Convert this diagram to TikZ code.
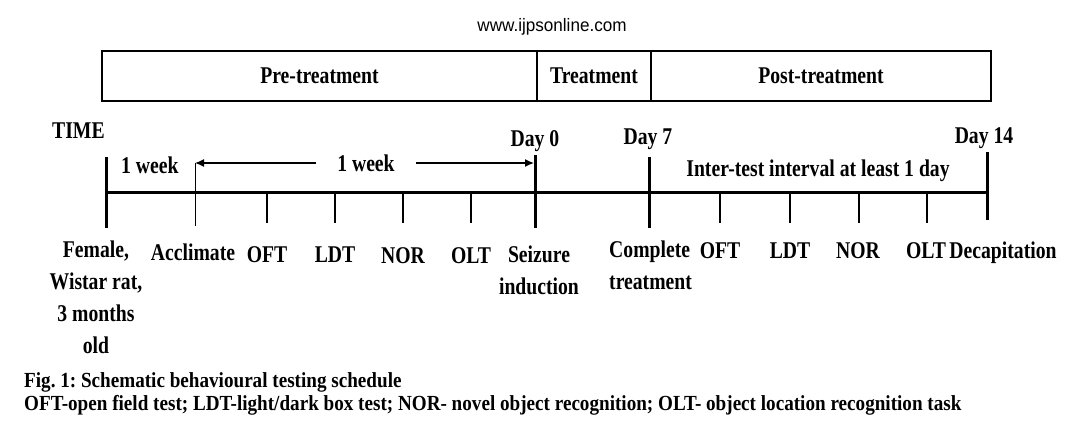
\documentclass[tikz,border=0pt]{standalone}
\usepackage{fontspec}
\setmainfont{Liberation Serif}[FakeStretch=0.82]
\newfontfamily\capfam{Liberation Serif}[FakeStretch=0.89]
\newfontfamily\webfont{Liberation Sans}[FakeStretch=0.95]
\usetikzlibrary{arrows.meta}
\frenchspacing
\newcommand{\labfont}{\fontsize{24}{32}\selectfont\bfseries}
\newcommand{\capfont}{\capfam\fontsize{21.5}{23}\selectfont\bfseries}
\begin{document}
\begin{tikzpicture}[x=1pt,y=-1pt,
  lab/.style={font=\labfont, inner sep=0pt, align=center, anchor=base},
  phase/.style={draw, line width=2pt, inner sep=0pt, minimum height=50pt, font=\labfont},
  axisline/.style={line width=3pt},
  major/.style={line width=3pt},
  minor/.style={line width=1.1pt},
  arr/.style={line width=1.3pt, -{Latex[length=9pt,width=8pt]}}]
\useasboundingbox (0,0) rectangle (1086,426);
% header
\node[font=\webfont\fontsize{18}{20}\selectfont, inner sep=0pt] (web) at (552,27) {www.ijpsonline.com};
% phase boxes
\node[phase, minimum width=435pt] (pre) at (319.5,76) {Pre-treatment};
\node[phase, minimum width=114pt] (trt) at (594,76) {Treatment};
\node[phase, minimum width=340pt] (post) at (821,76) {Post-treatment};
% time axis
\coordinate (a0) at (106,192);
\coordinate (a1) at (987,192);
\draw[axisline] (a0) -- (a1);
% major ticks
\coordinate (s0) at (106,157); \coordinate (e0) at (106,228);
\coordinate (sd0) at (535,155); \coordinate (ed0) at (535,228);
\coordinate (sd7) at (649,157); \coordinate (ed7) at (649,228);
\coordinate (sd14) at (987,152); \coordinate (ed14) at (987,220);
\draw[major] (s0) -- (e0);
\draw[major] (sd0) -- (ed0);
\draw[major] (sd7) -- (ed7);
\draw[major] (sd14) -- (ed14);
% acclimate tick
\coordinate (acctop) at (195,163); \coordinate (accbot) at (195,226);
\draw[line width=1pt] (acctop) -- (accbot);
% minor ticks
\foreach \x in {267,335,403,471,720,790,859,927}{
  \draw[minor] (\x,192) -- (\x,223);
}
% arrows
\coordinate (d0arr) at (534,163);
\node[font=\labfont, inner ysep=0pt, inner xsep=21pt] (wk2) at (366,163) {1 week};
\draw[arr] (wk2.west |- acctop) -- (acctop);
\draw[arr] (wk2.east |- d0arr) -- (d0arr);
% labels above axis
\node[lab, anchor=base west] (time) at (52,138) {TIME};
\node[lab, anchor=base west] (wk1) at (121,173) {1 week};
\node[lab] (day0) at (535,146) {Day 0};
\node[lab] (day7) at (648,144) {Day 7};
\node[lab] (day14) at (984,143) {Day 14};
\node[lab] (iti) at (818,176) {Inter-test interval at least 1 day};
% labels below axis
\node[lab, anchor=north] (rat) at (96,241) {Female,\\Wistar rat,\\3 months\\old};
\node[lab] (acc) at (193,260) {Acclimate};
\node[lab] (oft1) at (267,262) {OFT};
\node[lab] (ldt1) at (335,262) {LDT};
\node[lab] (nor1) at (403,263) {NOR};
\node[lab] (olt1) at (471,263) {OLT};
\node[lab, anchor=north] (seiz) at (539,246) {Seizure\\induction};
\node[lab, anchor=north west, align=left] (comp) at (609,241) {Complete\\treatment};
\node[lab] (oft2) at (720,258) {OFT};
\node[lab] (ldt2) at (790,258) {LDT};
\node[lab] (nor2) at (858,258) {NOR};
\node[lab] (olt2) at (926,258) {OLT};
\node[lab] (dec) at (1003,258) {Decapitation};
% caption
\node[font=\capfont, inner sep=0pt, anchor=base west] (cap1) at (24,387) {Fig. 1: Schematic behavioural testing schedule};
\node[font=\capfont, inner sep=0pt, anchor=base west] (cap2) at (24,410) {OFT-open field test; LDT-light/dark box test; NOR- novel object recognition; OLT- object location recognition task};
\end{tikzpicture}
\end{document}
